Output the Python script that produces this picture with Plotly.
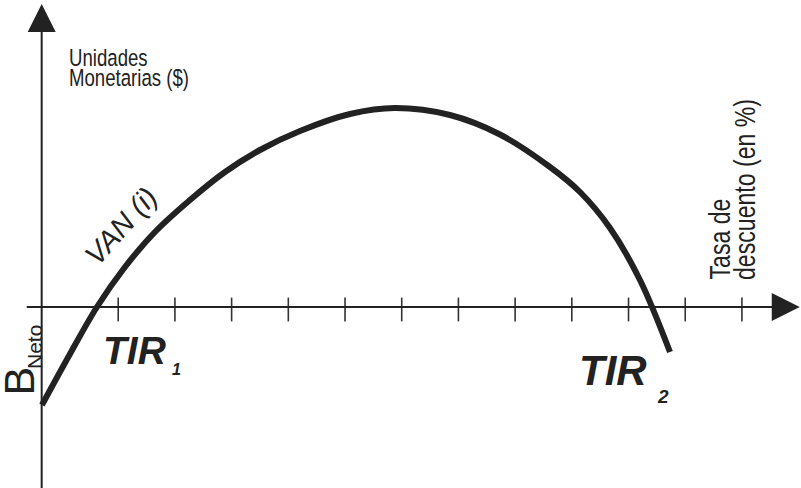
import plotly.graph_objects as go

# ---------------- data (arbitrary units: x = discount rate, y = NPV) ----------------
rate = [0.005, 0.499, 0.975, 1.469, 1.998, 2.616, 3.233, 3.850, 4.556, 5.437,
        6.231, 7.201, 8.083, 8.965, 9.494, 10.023, 10.552, 11.081]
van = [-1.96, -0.94, 0.0, 0.80, 1.50, 2.14, 2.70, 3.14, 3.52, 3.86,
       3.98, 3.84, 3.45, 2.80, 2.30, 1.58, 0.54, -0.90]
tick_x = [1.35, 2.35, 3.35, 4.35, 5.35, 6.35, 7.35, 8.35, 9.35, 10.35, 11.35, 12.35]

W, H = 801, 488
X_RANGE = [-0.735, 13.392]
Y_RANGE = [-3.62, 6.14]

# "CondensedNN" is not an installed family: it falls back to Liberation Sans and
# tells the page script below how much to condense the label (NN %)
NARROW76 = "Condensed76, Liberation Sans, Arial, sans-serif"
NARROW77 = "Condensed77, Liberation Sans, Arial, sans-serif"
SANS = "Liberation Sans, Arial, Helvetica, sans-serif"
INK = "#222222"


def px(x):
    return x / W


def py(y):
    return 1 - y / H


fig = go.Figure()

# tick marks on the rate axis
fig.add_trace(go.Scatter(
    x=tick_x, y=[-0.05] * len(tick_x), mode="markers",
    marker=dict(symbol="line-ns", size=17, line=dict(width=1.6, color="#333333")),
    hoverinfo="skip", showlegend=False))

# VAN(i) curve
fig.add_trace(go.Scatter(
    x=rate, y=van, mode="lines",
    line=dict(color=INK, width=6, shape="spline", smoothing=1.0),
    hoverinfo="skip", showlegend=False))

ann = []
# axes with arrowheads
ann.append(dict(x=13.37, y=0, ax=-0.29, ay=0, xref="x", yref="y", axref="x", ayref="y",
                text="", showarrow=True, arrowhead=2, arrowsize=2.8, arrowwidth=2,
                arrowcolor=INK))
ann.append(dict(x=0, y=6.06, ax=0, ay=-3.7, xref="x", yref="y", axref="x", ayref="y",
                text="", showarrow=True, arrowhead=2, arrowsize=2.8, arrowwidth=2,
                arrowcolor=INK))


def label(text, x, y, size, family, xanchor="left", yanchor="middle", angle=0,
          weight="normal", style="normal", align="left"):
    ann.append(dict(text=text, x=px(x), y=py(y), xref="paper", yref="paper",
                    xanchor=xanchor, yanchor=yanchor, textangle=angle, showarrow=False,
                    align=align,
                    font=dict(size=size, family=family, color=INK, weight=weight, style=style)))


label("Unidades", 67, 57.5, 24.5, NARROW76)
label("Monetarias ($)", 67, 77.5, 24.5, NARROW76)
label("Tasa de", 719, 282, 30, NARROW77, xanchor="center", yanchor="bottom", angle=-90)
label("descuento (en %)", 744.5, 282, 30, NARROW77, xanchor="center", yanchor="bottom", angle=-90)
label("B", 18, 398, 43, SANS, xanchor="center", yanchor="bottom", angle=-90)
label("Neto", 34, 371, 21, SANS, xanchor="center", yanchor="bottom", angle=-90)
label("TIR", 101, 350.5, 39, SANS, weight="bold", style="italic")
label("1", 170, 369.5, 16, SANS, weight="bold", style="italic")
label("TIR", 577, 370, 42, SANS, weight="bold", style="italic")
label("2", 655, 396, 19, SANS, weight="bold", style="italic")
label("VAN (i)", 121, 226, 29, SANS, xanchor="center", angle=-48, style="italic",
      align="center")

fig.update_layout(
    width=W, height=H,
    margin=dict(l=0, r=0, t=0, b=0),
    paper_bgcolor="white", plot_bgcolor="white",
    xaxis=dict(range=X_RANGE, visible=False, fixedrange=True),
    yaxis=dict(range=Y_RANGE, visible=False, fixedrange=True),
    annotations=ann,
    showlegend=False,
)

# remove the page margin and condense the labels marked "CondensedNN"
POST = """
document.body.style.margin = '0';
document.body.style.overflow = 'hidden';
var gd = document.getElementById('{plot_id}');
gd.querySelectorAll('text.annotation-text').forEach(function(t) {
  var ff = (t.style.fontFamily || t.getAttribute('style') || '');
  var m = ff.match(/Condensed(\\d+)/);
  if (m) {
    var k = parseInt(m[1], 10) / 100;
    var L = t.getComputedTextLength();
    t.setAttribute('textLength', (L * k).toFixed(2));
    t.setAttribute('lengthAdjust', 'spacingAndGlyphs');
  }
});
"""

fig.write_html("out.html", config={"displayModeBar": False}, post_script=POST)
